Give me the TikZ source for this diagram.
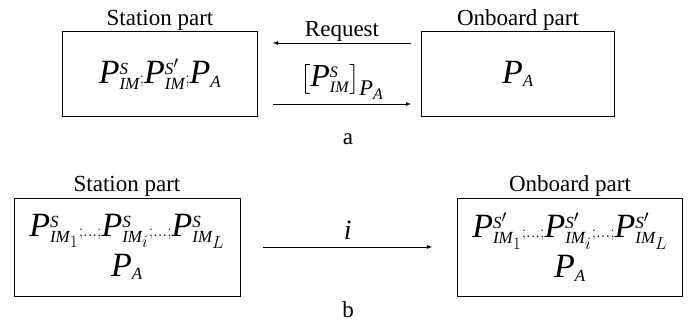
\documentclass[tikz,border=0pt]{standalone}
\usepackage{fontspec}
\setmainfont{Liberation Serif}
\usepackage{amsmath}
\usepackage{tikz}
\usetikzlibrary{positioning}

\newcommand{\Pv}{\mathit{P}}
\newcommand{\Pim}[2]{\Pv^{\scriptscriptstyle\mathit{#1}}_{\scriptscriptstyle\mathit{IM}#2}}
\newcommand{\Pa}{\Pv_{\scriptscriptstyle\mathit{A}}}
\newcommand{\sep}{{\scriptscriptstyle;\ldots;}}

\begin{document}
\begin{tikzpicture}[x=1pt,y=1pt,
    part/.style={draw,thick,fill=white,inner sep=0pt},
    lbl/.style={font=\fontsize{23}{25}\selectfont,inner sep=1pt},
    msg/.style={-latex,thick},
    body/.style={font=\fontsize{34}{40}\selectfont}]
    \useasboundingbox (0,0) rectangle (697,325);
    % a
    \node[part,minimum width=195,minimum height=85,body] (sa) at (160,251)
        {$\Pim{S}{}{\scriptscriptstyle;}\Pim{S'}{}{\scriptscriptstyle;}\Pa$};
    \node[lbl,above=0pt of sa] (sal) {Station part};
    \node[part,minimum width=193,minimum height=85,body] (oa) at (518,251)
        {$\Pa$};
    \node[lbl,above=0pt of oa] (oal) {Onboard part};
    \draw[msg] ([shift={(-10,31)}]oa.west) -- ([shift={(15,31)}]sa.east)
        node[lbl,midway,above] (req) {Request};
    \draw[msg] ([shift={(15,-30)}]sa.east) -- ([shift={(-10,-30)}]oa.west)
        node[midway,above=1pt,font=\fontsize{32}{36}\selectfont] (key) {$\bigl[\Pim{S}{}\bigr]_{\Pa}$};
    \node[lbl] (capa) at (348,186) {a};
    % b
    \node[part,minimum width=226,minimum height=98,body,align=center] (sb) at (127,78)
        {$\Pim{S}{_1}\sep\Pim{S}{_i}\sep\Pim{S}{_L}$\\[0pt]$\Pa$};
    \node[lbl,above=0pt of sb] (sbl) {Station part};
    \node[part,minimum width=225,minimum height=98,body,align=center] (ob) at (570,78)
        {$\Pim{S'}{_1}\sep\Pim{S'}{_i}\sep\Pim{S'}{_L}$\\[0pt]$\Pa$};
    \node[lbl,above=0pt of ob] (obl) {Onboard part};
    \draw[msg] ([xshift=23]sb.east) -- ([xshift=-25]ob.west)
        node[lbl,midway,above=6pt,font=\fontsize{28}{30}\selectfont] (idx) {$\mathit{i}$};
    \node[lbl] (capb) at (348,15) {b};
\end{tikzpicture}
\end{document}
